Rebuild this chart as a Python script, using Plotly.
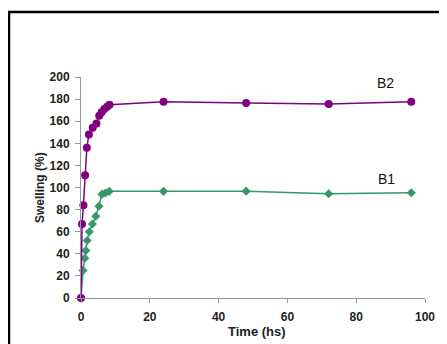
import plotly.graph_objects as go

b2_time = [0, 0.3, 0.7, 1.2, 1.7, 2.3, 3.4, 4.5, 5.3, 6.0, 6.8, 7.6, 8.3, 24, 48, 72, 96]
b2_swelling = [0, 67, 84, 111, 136, 148, 154, 158, 165, 168, 171, 173, 175, 177.5, 176.5, 175.5, 177.5]

b1_time = [0, 0.6, 1.1, 1.4, 1.8, 2.4, 3.3, 4.3, 5.2, 6.1, 7.1, 8.2, 24, 48, 72, 96]
b1_swelling = [0, 25, 36, 43, 52, 60, 67, 74, 83, 94, 95, 96.5, 96.5, 96.7, 94.3, 95.2]

x_ticks = [0, 20, 40, 60, 80, 100]
y_ticks = [0, 20, 40, 60, 80, 100, 120, 140, 160, 180, 200]

fig = go.Figure()
fig.add_trace(go.Scatter(
    x=b1_time, y=b1_swelling, mode="lines+markers", name="B1",
    line=dict(color="#339966", width=1.5),
    marker=dict(symbol="diamond", size=7, color="#339966"),
    cliponaxis=False,
))
fig.add_trace(go.Scatter(
    x=b2_time, y=b2_swelling, mode="lines+markers", name="B2",
    line=dict(color="#800080", width=1.5),
    marker=dict(symbol="circle", size=8, color="#800080"),
    cliponaxis=False,
))

FAM = "Liberation Sans, Arial, sans-serif"
axis_font = dict(family=FAM, size=12, color="#222222", weight="bold")

# page has an 8px body margin; plot area target in page px: x 81..425, y 77..298
OFF = 8
L, R, T, B = 81, 425, 77, 298
W, H = 447 - OFF, 344 - OFF
pw, ph = R - L, B - T


def px(x):
    return (x - L) / pw


def py(y):
    return (B - y) / ph


def label(text, x, y, size, color, angle=0):
    return dict(text=text, x=px(x), y=py(y), xref="paper", yref="paper",
                xanchor="center", yanchor="middle", showarrow=False,
                textangle=angle, font=dict(family=FAM, size=size, color=color))


fig.update_layout(
    width=W, height=H,
    margin=dict(l=L - OFF, r=W - (R - OFF), t=T - OFF, b=H - (B - OFF), pad=0),
    paper_bgcolor="white", plot_bgcolor="white",
    showlegend=False,
    xaxis=dict(range=[0, 100], tickvals=x_ticks, showgrid=False, zeroline=False,
               showline=True, linecolor="#999999", linewidth=1,
               ticks="outside", ticklen=4, tickcolor="#999999",
               ticklabelstandoff=4, tickfont=axis_font),
    yaxis=dict(range=[0, 200], tickvals=y_ticks, showgrid=False, zeroline=False,
               showline=True, linecolor="#999999", linewidth=1,
               ticks="outside", ticklen=5, tickcolor="#999999",
               ticklabelstandoff=3, tickfont=axis_font),
    annotations=[
        label("<b>Time (hs)</b>", 257, 331, 13, "#222222"),
        label("<b>Swelling (%)</b>", 40, 188, 12, "#222222", angle=-90),
        label("B2", 385, 82.5, 14, "#111111"),
        label("B1", 386, 179, 14, "#111111"),
    ],
    shapes=[
        dict(type="rect", xref="paper", yref="paper",
             x0=px(9), x1=px(470),
             y0=py(370), y1=py(12),
             line=dict(color="black", width=2.5), fillcolor="rgba(0,0,0,0)", layer="below"),
    ],
)

fig.write_html("out.html")
